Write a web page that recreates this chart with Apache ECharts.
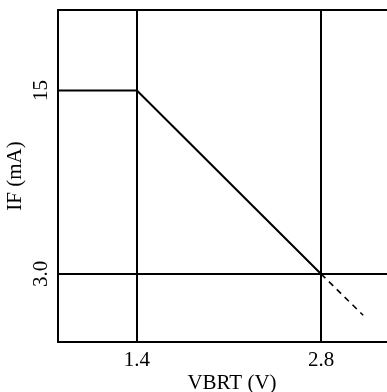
<!DOCTYPE html>
<html><head><meta charset="utf-8">
<script src="https://cdn.jsdelivr.net/npm/echarts@6/dist/echarts.min.js"></script>
<style>html,body{margin:0;padding:0;background:#fff}#c{width:387px;height:392px}</style>
</head><body><div id="c"></div>
<script>
const curveX = [0.8, 1.4, 2.8];
const curveY = [15, 15, 3.0];
const dashX = [2.8, 3.12];
const dashY = [3.0, 0.3];
const xTicks = [1.4, 2.8];
const xTickLabels = ['1.4', '2.8'];
const yTicks = [3.0, 15];
const yTickLabels = ['3.0', '15'];
const xName = 'VBRT (V)';
const yName = 'IF (mA)';

const font = 'Liberation Serif';
const chart = echarts.init(document.getElementById('c'));
chart.setOption({
  animation: false,
  grid: { left: 58, top: 10, width: 342, height: 332, show: true, borderColor: '#000', borderWidth: 2,
    containLabel: false, outerBoundsMode: 'none' },
  xAxis: {
    type: 'value', min: 0.8, max: 3.4,
    axisLine: { show: false }, axisTick: { show: false }, splitLine: { show: false },
    axisLabel: { customValues: xTicks, color: '#000', fontFamily: font, fontSize: 21, margin: 8,
      formatter: v => xTickLabels[xTicks.indexOf(v)] }
  },
  yAxis: {
    type: 'value', min: -1.45, max: 20.26,
    axisLine: { show: false }, axisTick: { show: false }, splitLine: { show: false },
    axisLabel: { customValues: yTicks, color: '#000', fontFamily: font, fontSize: 21, rotate: 90, margin: 6,
      formatter: v => yTickLabels[yTicks.indexOf(v)] }
  },
  graphic: [
    { type: 'text', x: 232, y: 383, style: { text: xName, font: '21px ' + font, fill: '#000', align: 'center', verticalAlign: 'middle' } },
    { type: 'text', rotation: Math.PI / 2, x: 15, y: 176, style: { text: yName, font: '21px ' + font, fill: '#000', align: 'center', verticalAlign: 'middle' } }
  ],
  series: [
    { type: 'line', data: curveX.map((x, i) => [x, curveY[i]]), symbol: 'none',
      lineStyle: { color: '#000', width: 2 },
      markLine: { silent: true, symbol: 'none', label: { show: false },
        lineStyle: { color: '#000', width: 2, type: 'solid' },
        data: [{ xAxis: xTicks[0] }, { xAxis: xTicks[1] }, { yAxis: yTicks[0] }] } },
    { type: 'line', data: dashX.map((x, i) => [x, dashY[i]]), symbol: 'none',
      lineStyle: { color: '#000', width: 1.6, type: [6, 5] } }
  ]
});
</script></body></html>
